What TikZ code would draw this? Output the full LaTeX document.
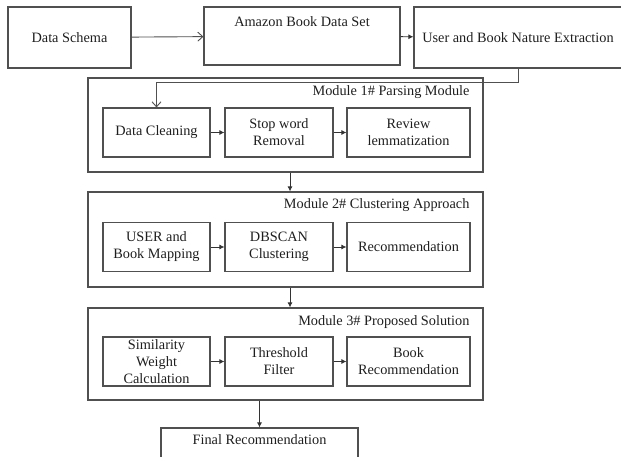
\documentclass[tikz,border=0pt]{standalone}
\usepackage{fontspec}
\setmainfont{Liberation Serif}
\usetikzlibrary{arrows.meta}

\definecolor{linegray}{RGB}{80,80,80}
\definecolor{textgray}{RGB}{30,30,30}

\begin{document}
\begin{tikzpicture}[x=1pt, y=-1pt, font=\fontsize{14.3}{17}\selectfont, text=textgray,
    box/.style={draw=linegray, line width=1.1pt, align=center, inner sep=0pt},
    inbox/.style={box, minimum height=49pt},
    modbox/.style={draw=linegray, line width=1.1pt, minimum width=395pt},
    openarr/.style={draw=linegray, line width=0.9pt, -{Straight Barb[length=5pt,width=9pt]}},
    fillarr/.style={draw=black!80, line width=0.9pt, -{Latex[length=5pt,width=5pt]}}]
    \useasboundingbox (0,0) rectangle (621,457);
    % top row
    \node[box, minimum width=123pt, minimum height=61pt] (schema) at (69.5,37.5) {Data Schema};
    \node[box, minimum width=196pt, minimum height=58pt,
          label={[anchor=north, yshift=-7pt]north:Amazon Book Data Set}] (amazon) at (302,36) {};
    \node[box, minimum width=208pt, minimum height=61pt] (user) at (518,37.5) {User and Book Nature Extraction};
    \draw[openarr] (schema) -- (amazon);
    \draw[fillarr] (amazon) -- (user);
    % module boxes
    \node[modbox, minimum height=94pt] (mod1) at (285.5,125) {};
    \node[modbox, minimum height=95pt] (mod2) at (285.5,239.5) {};
    \node[modbox, minimum height=92pt] (mod3) at (285.5,354) {};
    \node[anchor=east] (lab1) at (473,92) {Module 1\# Parsing Module};
    \node[anchor=east] (lab2) at (473,205) {Module 2\# Clustering Approach};
    \node[anchor=east] (lab3) at (473,322) {Module 3\# Proposed Solution};
    % module 1
    \node[inbox, minimum width=107pt] (clean) at (156.5,132.5) {Data Cleaning};
    \node[inbox, minimum width=108pt] (stop) at (279,132.5) {Stop word\\Removal};
    \node[inbox, minimum width=123pt] (review) at (408.5,132.5) {Review\\lemmatization};
    % module 2
    \node[inbox, minimum width=107pt] (mapping) at (156.5,247) {USER and\\Book Mapping};
    \node[inbox, minimum width=108pt] (dbscan) at (279,247) {DBSCAN\\Clustering};
    \node[inbox, minimum width=123pt] (recom) at (408.5,247) {Recommendation};
    % module 3
    \node[inbox, minimum width=107pt] (simw) at (156.5,361.5) {Similarity\\Weight\\Calculation};
    \node[inbox, minimum width=108pt] (thresh) at (279,361.5) {Threshold\\Filter};
    \node[inbox, minimum width=123pt] (bookrec) at (408.5,361.5) {Book\\Recommendation};
    % final
    \node[box, minimum width=197pt, minimum height=40pt,
          label={[anchor=north, yshift=-4pt]north:Final Recommendation}] (final) at (259.5,448) {};
    % connectors
    \draw[openarr] (user.south) -- ++(0,14) -| (clean.north);
    \draw[fillarr] (clean) -- (stop);
    \draw[fillarr] (stop) -- (review);
    \draw[fillarr] (mapping) -- (dbscan);
    \draw[fillarr] (dbscan) -- (recom);
    \draw[fillarr] (simw) -- (thresh);
    \draw[fillarr] (thresh) -- (bookrec);
    \draw[fillarr] ([xshift=4.5pt]mod1.south) -- ([xshift=4.5pt]mod2.north);
    \draw[fillarr] ([xshift=4.5pt]mod2.south) -- ([xshift=4.5pt]mod3.north);
    \draw[fillarr] (mod3.south -| final.north) -- (final.north);
\end{tikzpicture}
\end{document}
